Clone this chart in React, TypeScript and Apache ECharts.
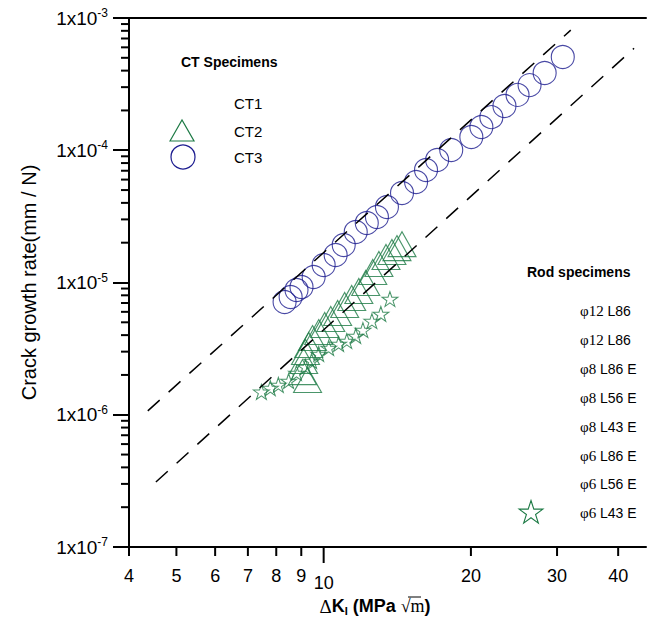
import React, { useEffect, useRef } from "react";
import * as echarts from "echarts";

// ---------- data ----------
const ct3DeltaK = [8.32, 8.56, 8.8, 9.01, 9.54, 10.0, 10.58, 10.99, 11.63, 12.25, 12.85, 13.47, 14.46, 15.45, 16.19, 17.06, 18.23, 20.04, 21.01, 22.02, 23.42, 24.91, 26.36, 28.3, 30.82];
const ct3Rate = [7.12e-6, 7.77e-6, 8.77e-6, 9.25e-6, 1.1e-5, 1.356e-5, 1.614e-5, 1.921e-5, 2.41e-5, 2.82e-5, 3.13e-5, 3.72e-5, 4.75e-5, 5.75e-5, 7.09e-5, 8.44e-5, 1.004e-4, 1.26e-4, 1.5e-4, 1.78e-4, 2.16e-4, 2.62e-4, 3.11e-4, 3.84e-4, 5.07e-4];

const ct2DeltaK = [9.27, 9.05, 9.1, 9.18, 9.32, 9.49, 9.77, 10.05, 10.34, 10.68, 11.04, 11.41, 11.8, 12.19, 12.6, 12.97, 13.41, 13.79, 14.12, 14.46];
const ct2Rate = [1.83e-6, 2.1e-6, 2.55e-6, 2.98e-6, 3.37e-6, 3.8e-6, 4.22e-6, 4.77e-6, 5.3e-6, 5.88e-6, 6.76e-6, 7.64e-6, 8.62e-6, 9.91e-6, 1.2e-5, 1.38e-5, 1.56e-5, 1.7e-5, 1.82e-5, 1.95e-5];

const rodDeltaK = [7.46, 7.78, 8.08, 8.48, 8.8, 9.18, 9.45, 9.77, 10.24, 10.73, 11.15, 11.63, 12.03, 12.55, 13.09, 13.66];
const rodRate = [1.49e-6, 1.59e-6, 1.68e-6, 1.8e-6, 2.07e-6, 2.3e-6, 2.55e-6, 2.88e-6, 3.2e-6, 3.43e-6, 3.61e-6, 3.94e-6, 4.37e-6, 5.11e-6, 5.78e-6, 7.5e-6];

const upperLineK = [4.37, 32.0];
const upperLineRate = [1.07e-6, 8.1e-4];
const lowerLineK = [4.54, 43.1];
const lowerLineRate = [3.1e-7, 5.9e-4];

const xTickValues = [4, 5, 6, 7, 8, 9, 10, 20, 30, 40];
const xMajorTicks = [10];
const yDecades = [1e-7, 1e-6, 1e-5, 1e-4];
const yMinorMultipliers = [2, 3, 4, 5, 6, 7, 8, 9];

const ctLegend = ["CT1", "CT2", "CT3"];
const rodLegend = ["12 L86", "12 L86", "8 L86 E", "8 L56 E", "8 L43 E", "6 L86 E", "6 L56 E", "6 L43 E"];

// ---------- styles ----------
const SANS = "'Liberation Sans', Arial, sans-serif";
const SERIF = "'Liberation Serif', 'Times New Roman', serif";
const BLUE = "#1b1b8f";
const GREEN = "#1d7a45";
const STAR =
  "path://M50 0 L61.23 34.55 L97.55 34.55 L68.17 55.9 L79.39 90.45 L50 69.1 L20.61 90.45 L31.83 55.9 L2.45 34.55 L38.77 34.55 Z";

function starPoints(cx: number, cy: number, R: number, r: number) {
  const pts: number[][] = [];
  for (let i = 0; i < 10; i++) {
    const a = (-90 + i * 36) * (Math.PI / 180);
    const rad = i % 2 === 0 ? R : r;
    pts.push([cx + rad * Math.cos(a), cy + rad * Math.sin(a)]);
  }
  return pts;
}

export default function App() {
  const ref = useRef<HTMLDivElement>(null);

  useEffect(() => {
    if (!ref.current) return;
    const chart = echarts.init(ref.current, undefined, { renderer: "svg" });

    const yMinor: number[][] = [];
    yDecades.forEach((d) => yMinorMultipliers.forEach((m) => yMinor.push([4, d * m])));

    const graphics: any[] = [];
    // x axis title
    graphics.push({
      type: "text",
      x: 375,
      y: 606,
      z: 10,
      style: {
        text: "{d|Δ}{k|K}{sub|I}{k| (MPa }{r|√m}{k|)}",
        textAlign: "center",
        textVerticalAlign: "middle",
        fill: "#000",
        rich: {
          d: { fontFamily: SERIF, fontSize: 19, fill: "#000" },
          k: { fontFamily: SANS, fontSize: 18, fontWeight: "bold", fill: "#000" },
          sub: { fontFamily: SANS, fontSize: 11, fontWeight: "bold", fill: "#000", verticalAlign: "top", padding: [9, 0, 0, 0] },
          r: { fontFamily: SERIF, fontSize: 18, fill: "#000" },
        },
      },
    });
    graphics.push({
      type: "line", z: 10,
      shape: { x1: 408, y1: 597, x2: 421, y2: 597 },
      style: { stroke: "#000", lineWidth: 1 },
    });
    // CT legend
    graphics.push({
      type: "text", x: 181, y: 62, z: 10,
      style: { text: "CT Specimens", font: `bold 14px ${SANS}`, fill: "#000", textVerticalAlign: "middle" },
    });
    const ctY = [103, 131, 157];
    ctLegend.forEach((t, i) =>
      graphics.push({
        type: "text", x: 234, y: ctY[i], z: 10,
        style: { text: t, font: `15px ${SANS}`, fill: "#000", textVerticalAlign: "middle" },
      })
    );
    graphics.push({
      type: "polygon", z: 10,
      shape: { points: [[170, 141], [182, 120], [194, 141]] },
      style: { fill: "none", stroke: GREEN, lineWidth: 1.2 },
    });
    graphics.push({
      type: "circle", z: 10,
      shape: { cx: 183, cy: 157, r: 12 },
      style: { fill: "none", stroke: BLUE, lineWidth: 1.2 },
    });
    // Rod legend
    graphics.push({
      type: "text", x: 527, y: 272, z: 10,
      style: { text: "Rod specimens", font: `bold 14px ${SANS}`, fill: "#000", textVerticalAlign: "middle" },
    });
    rodLegend.forEach((t, i) => {
      const parts = t.split(" ");
      graphics.push({
        type: "text", x: 580, y: 311 + i * 28.9, z: 10,
        style: {
          text: `{p|φ${parts[0]}}{a| ${parts.slice(1).join(" ")}}`,
          textVerticalAlign: "middle",
          rich: {
            p: { fontFamily: SERIF, fontSize: 15, fill: "#000" },
            a: { fontFamily: SANS, fontSize: 14, fill: "#000" },
          },
        },
      });
    });
    graphics.push({
      type: "polygon", z: 10,
      shape: { points: starPoints(531, 513, 12.5, 4.8) },
      style: { fill: "none", stroke: GREEN, lineWidth: 1.1 },
    });

    chart.setOption({
      animation: false,
      backgroundColor: "#fff",
      grid: { left: 129, top: 18, right: 3, bottom: 81 },
      xAxis: [
        {
          type: "log",
          min: 4,
          max: 45.6,
          axisLine: { show: true, lineStyle: { color: "#000", width: 2 } },
          axisTick: { show: false },
          axisLabel: { show: false },
          splitLine: { show: false },
        },
        {
          type: "log",
          position: "top",
          min: 4,
          max: 45.6,
          axisLine: { show: true, onZero: false, lineStyle: { color: "#000", width: 2 } },
          axisTick: { show: false },
          axisLabel: { show: false },
          splitLine: { show: false },
        },
      ],
      yAxis: {
        type: "log",
        min: 1e-7,
        max: 1e-3,
        name: "Crack growth rate(mm / N)",
        nameLocation: "middle",
        nameGap: 90,
        nameTextStyle: { fontFamily: SANS, fontSize: 20, color: "#000" },
        axisLine: { show: true, lineStyle: { color: "#000", width: 2 } },
        axisTick: { show: true, length: 16, lineStyle: { color: "#000", width: 2 } },
        axisLabel: {
          margin: 21,
          formatter: (v: number) => `{b|1x10}{s|${Math.round(Math.log10(v))}}`,
          rich: {
            b: { fontFamily: SANS, fontSize: 19, color: "#000" },
            s: { fontFamily: SANS, fontSize: 12, color: "#000", verticalAlign: "bottom", padding: [0, 0, 10, 0] },
          },
        },
        splitLine: { show: false },
      },
      graphic: graphics,
      series: [
        {
          type: "scatter",
          data: ct3DeltaK.map((k, i) => [k, ct3Rate[i]]),
          symbol: "circle",
          symbolSize: 23,
          itemStyle: { color: "rgba(0,0,0,0)", borderColor: BLUE, borderWidth: 1.1 },
          silent: true,
        },
        {
          type: "scatter",
          data: ct2DeltaK.map((k, i) => [k, ct2Rate[i]]),
          symbol: "triangle",
          symbolSize: [28, 25],
          itemStyle: { color: "rgba(0,0,0,0)", borderColor: GREEN, borderWidth: 1.1 },
          silent: true,
        },
        {
          type: "scatter",
          data: rodDeltaK.map((k, i) => [k, rodRate[i]]),
          symbol: STAR,
          symbolSize: [16, 15],
          itemStyle: { color: "rgba(0,0,0,0)", borderColor: GREEN, borderWidth: 1 },
          silent: true,
        },
        {
          type: "line",
          data: upperLineK.map((k, i) => [k, upperLineRate[i]]),
          symbol: "none",
          lineStyle: { color: "#000", width: 1.5, type: [16, 12] },
          silent: true,
        },
        {
          type: "line",
          data: lowerLineK.map((k, i) => [k, lowerLineRate[i]]),
          symbol: "none",
          lineStyle: { color: "#000", width: 1.5, type: [16, 12] },
          silent: true,
        },
        {
          type: "custom",
          clip: false,
          silent: true,
          data: xTickValues.map((v) => [v, 1e-7, xMajorTicks.includes(v) ? 1 : 0]),
          renderItem: (_p: any, api: any) => {
            const v = api.value(0);
            const p = api.coord([v, api.value(1)]);
            const major = api.value(2) === 1;
            const len = major ? 16 : 9;
            return {
              type: "group",
              children: [
                { type: "line", shape: { x1: p[0], y1: p[1], x2: p[0], y2: p[1] + len }, style: { stroke: "#000", lineWidth: 2 } },
                {
                  type: "text",
                  x: p[0],
                  y: p[1] + len + 11,
                  style: { text: String(v), align: "center", verticalAlign: "top", fontSize: 18, fontFamily: SANS, fill: "#000" },
                },
              ],
            };
          },
        },
        {
          type: "custom",
          clip: false,
          silent: true,
          data: yMinor,
          renderItem: (_p: any, api: any) => {
            const p = api.coord([api.value(0), api.value(1)]);
            return { type: "line", shape: { x1: p[0] - 8, y1: p[1], x2: p[0], y2: p[1] }, style: { stroke: "#000", lineWidth: 2 } };
          },
        },
      ],
    });

    return () => chart.dispose();
  }, []);

  return (
    <div style={{ position: "absolute", left: 0, top: 0, width: 649, height: 628, background: "#fff", overflow: "hidden" }}>
      <div ref={ref} style={{ width: 649, height: 628 }} />
    </div>
  );
}
